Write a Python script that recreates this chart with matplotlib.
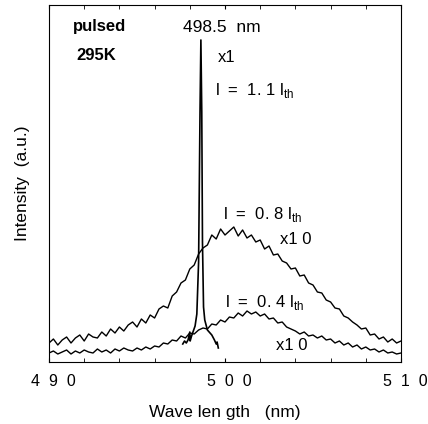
import matplotlib
matplotlib.use("Agg")
import matplotlib.pyplot as plt
import matplotlib.transforms as mtransforms

plt.rcParams["font.family"] = ["Liberation Sans", "DejaVu Sans"]
plt.rcParams["mathtext.fontset"] = "custom"
plt.rcParams["mathtext.rm"] = "Liberation Sans"

# broad spontaneous-emission spectra (x10), wavelength in nm
wl_broad = [490.00, 490.25, 490.50, 490.75, 491.00, 491.25, 491.50, 491.75,
            492.00, 492.25, 492.50, 492.75, 493.00, 493.25, 493.50, 493.75,
            494.00, 494.25, 494.50, 494.75, 495.00, 495.25, 495.50, 495.75,
            496.00, 496.25, 496.50, 496.75, 497.00, 497.25, 497.50, 497.75,
            498.00, 498.25, 498.50, 498.75, 499.00, 499.25, 499.50, 499.75,
            500.00, 500.25, 500.50, 500.75, 501.00, 501.25, 501.50, 501.75,
            502.00, 502.25, 502.50, 502.75, 503.00, 503.25, 503.50, 503.75,
            504.00, 504.25, 504.50, 504.75, 505.00, 505.25, 505.50, 505.75,
            506.00, 506.25, 506.50, 506.75, 507.00, 507.25, 507.50, 507.75,
            508.00, 508.25, 508.50, 508.75, 509.00, 509.25, 509.50, 509.75,
            510.00]

i_08 = [19, 23, 17, 22, 25, 19, 24, 27, 21, 28, 25, 24, 30, 26, 33, 29,
        35, 31, 37, 40, 35, 43, 39, 47, 44, 53, 56, 54, 66, 70, 79, 82,
        93, 97, 108, 114, 117, 127, 123, 133, 127, 131, 135, 126, 132, 124,
        127, 120, 122, 113, 116, 107, 108, 101, 99, 93, 94, 86, 87, 79,
        77, 70, 69, 62, 60, 54, 53, 46, 44, 40, 37, 33, 34, 27, 28, 23,
        25, 20, 23, 19, 21]

i_04 = [9, 11, 8, 10, 12, 8, 11, 9, 12, 10, 9, 13, 10, 12, 9, 13,
        11, 14, 12, 11, 14, 12, 15, 13, 16, 15, 19, 18, 22, 21, 26, 24,
        29, 28, 32, 34, 33, 38, 37, 42, 40, 45, 44, 49, 46, 51, 48, 50,
        46, 48, 43, 44, 39, 40, 35, 33, 31, 28, 30, 26, 27, 24, 26, 22,
        23, 19, 21, 17, 19, 15, 17, 13, 15, 12, 13, 10, 12, 9, 10, 8, 9]

# lasing line (x1) at 498.5 nm
wl_peak = [497.60, 497.70, 497.80, 497.90, 498.00, 498.02, 498.10, 498.20,
           498.30, 498.40, 498.50, 498.58, 498.63, 498.68, 498.72, 498.78,
           498.85, 499.00, 499.10, 499.25, 499.40, 499.50, 499.55, 499.62]
i_peak = [18, 21, 19, 22, 30, 21, 26, 31, 36, 48, 100, 250, 322, 250,
          120, 55, 42, 32, 30, 27, 22, 18, 20, 14]

tick_pos = [490, 500, 510]
tick_labels = ["4  9  0", "5  0  0", "5  1  0"]

fig = plt.figure(figsize=(4.28, 4.24), dpi=100)
ax = fig.add_axes([49 / 428, 62 / 424, 352 / 428, 357 / 424])

for y in (i_08, i_04):
    ax.plot(wl_broad, y, color="black", linewidth=1.0)
ax.plot(wl_peak, i_peak, color="black", linewidth=1.2)

ax.set_xlim(490, 510)
ax.set_ylim(0, 357)
ax.set_xticks(tick_pos)
ax.set_xticklabels(tick_labels, fontsize=11.5)
ax.set_xticks(list(range(492, 510, 2)), minor=True)
ax.tick_params(axis="x", which="both", direction="in", top=True, length=3,
               pad=9)
# labels in the scan sit a little right of their ticks
shift = mtransforms.ScaledTranslation(4 / 100, 0, fig.dpi_scale_trans)
for lab in ax.get_xticklabels():
    lab.set_transform(lab.get_transform() + shift)
ax.set_yticks([])
ax.set_xlabel("Wave len gth   (nm)", fontsize=12.5, labelpad=11)
ax.set_ylabel("Intensity  (a.u.)", fontsize=12.5, labelpad=14)

ax.text(491.36, 335, "pulsed", fontsize=12, fontweight="bold", va="center")
ax.text(491.53, 306, "295K", fontsize=12, fontweight="bold", va="center")
ax.text(497.61, 335, "498.5  nm", fontsize=12.5, va="center")
ax.text(499.60, 305, "x1", fontsize=12, va="center")
ax.text(499.43, 271, r"l  =  1. 1 l$_{\mathregular{th}}$", fontsize=12,
        va="center")
ax.text(499.89, 147, r"l  =  0. 8 l$_{\mathregular{th}}$", fontsize=12,
        va="center")
ax.text(503.13, 122, "x1 0", fontsize=12, va="center")
ax.text(500.00, 60, r"l  =  0. 4 l$_{\mathregular{th}}$", fontsize=12,
        va="center")
ax.text(502.90, 17, "x1 0", fontsize=12, va="center")

fig.savefig("out.png", dpi=100)
